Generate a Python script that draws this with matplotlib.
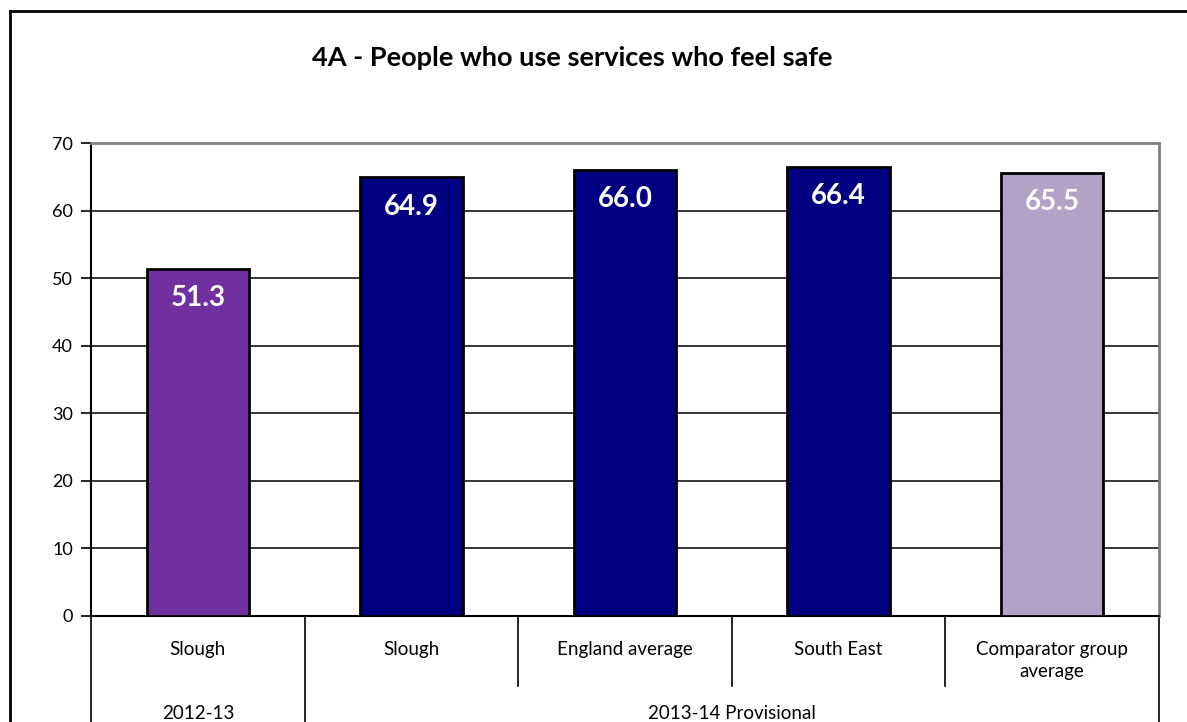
import matplotlib.pyplot as plt
from matplotlib.lines import Line2D

categories = ['Slough', 'Slough', 'England average', 'South East', 'Comparator group\naverage']
values = [51.3, 64.9, 66.0, 66.4, 65.5]
colors = ['#7030A0', '#000080', '#000080', '#000080', '#B3A2C7']
groups = ['2012-13', '2013-14 Provisional']
group_sizes = [1, 4]
title = '4A - People who use services who feel safe'

plt.rcParams['font.family'] = ['Lato', 'DejaVu Sans']

W, H = 1187, 722
fig = plt.figure(figsize=(W / 100, H / 100), dpi=100)
ax = fig.add_axes([91 / W, 1 - 616 / H, (1159 - 91) / W, (616 - 143) / H])

x = list(range(len(values)))
bars = ax.bar(x, values, width=0.48, color=colors, edgecolor='black', linewidth=2, zorder=3)
for b, v in zip(bars, values):
    ax.text(b.get_x() + b.get_width() / 2, v - 4.3, f'{v:.1f}', ha='center', va='center',
            color='white', fontsize=20, fontweight='bold', zorder=4)

ax.set_xlim(-0.5, len(values) - 0.5)
ax.set_ylim(0, 70)
ax.set_yticks(range(0, 71, 10))
ax.yaxis.grid(True, color='black', linewidth=1.1, zorder=0)
ax.tick_params(axis='y', labelsize=13, length=7, width=1.2, direction='out', pad=6)
ax.set_xticks([])
ax.spines['left'].set_linewidth(1.5)
ax.spines['bottom'].set_linewidth(1.5)
ax.spines['top'].set_color('#808080')
ax.spines['top'].set_linewidth(2)
ax.spines['right'].set_color('#808080')
ax.spines['right'].set_linewidth(2)

# category table below the axis
tr = ax.get_xaxis_transform()
for i, lab in enumerate(categories):
    ax.text(i, -0.052, lab, transform=tr, ha='center', va='top', fontsize=13.5,
            linespacing=1.4, clip_on=False)

edges = [-0.5]
for s in group_sizes:
    edges.append(edges[-1] + s)
for i in range(len(values) + 1):
    e = i - 0.5
    bottom = -0.25 if e in edges else -0.148
    ax.plot([e, e], [0, bottom], transform=tr, color='black', linewidth=1.2, clip_on=False)

for g, s, e0 in zip(groups, group_sizes, edges):
    ax.text(e0 + s / 2, -0.207, g, transform=tr, ha='center', va='center', fontsize=13.5,
            clip_on=False)

fig.text(572 / W, 1 - 58 / H, title, ha='center', va='center', fontsize=19.5, fontweight='bold')

# outer chart frame
fig.add_artist(Line2D([10 / W, 10 / W], [0, 1 - 11 / H], color='black', linewidth=2))
fig.add_artist(Line2D([10 / W, 1], [1 - 11 / H, 1 - 11 / H], color='black', linewidth=2))

fig.savefig('out.png', dpi=100)
